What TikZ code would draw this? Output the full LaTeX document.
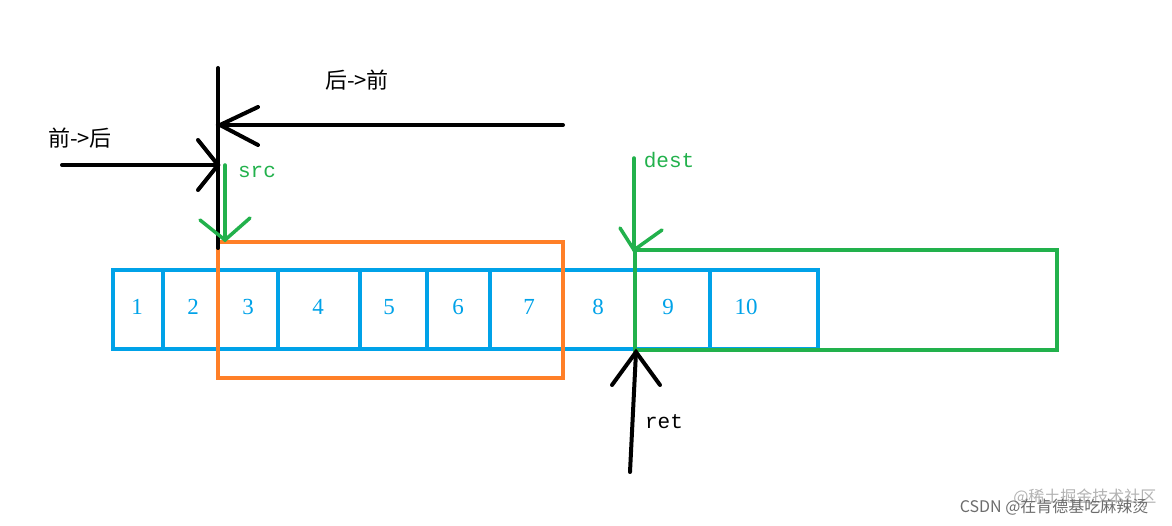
\documentclass[tikz,border=0pt]{standalone}
\usepackage{fontspec}
\setmainfont{Liberation Serif}
\setmonofont{Liberation Mono}
\newfontfamily\cjk{Noto Sans CJK SC}
\begin{document}
\begin{tikzpicture}[x=1pt,y=-1pt,
  bl/.style={draw=blu,line width=4pt},
  num/.style={text=blu,font=\fontsize{23}{24}\selectfont},
  lbl/.style={font=\ttfamily\fontsize{21}{22}\selectfont},
  blk/.style={line width=4pt,black,line cap=round},
  grn/.style={line width=3.5pt,gre,line cap=round}]
\definecolor{blu}{RGB}{0,162,232}
\definecolor{ora}{RGB}{255,127,39}
\definecolor{gre}{RGB}{34,177,76}
\useasboundingbox (0,0) rectangle (1172,526);
% array
\draw[bl] (113,270) rectangle (818,349);
\foreach \x in {163,218,278,360,427,490,563,710} \draw[bl] (\x,270) -- (\x,349);
\foreach \x/\n in {137/1,193/2,248/3,318/4,389/5,458/6,529/7,598/8,668/9,746/10}
  \node[num] (n\n) at (\x,307) {\n};
% orange and green boxes
\draw[ora,line width=4pt] (218,242) rectangle (563,378);
\draw[gre,line width=4pt] (635,250) rectangle (1057,350);
% black lines
\coordinate (vt) at (218,68); \coordinate (vb) at (218,248);
\draw[blk] (vt) -- (vb);
\coordinate (a1s) at (563,125); \coordinate (a1e) at (220,125);
\draw[blk] (a1s) -- (a1e);
\draw[blk] (258,107) -- (a1e) -- (258,145);
\coordinate (a2s) at (62,165); \coordinate (a2e) at (218,165);
\draw[blk] (a2s) -- (a2e);
\draw[blk] (198,140) -- (a2e) -- (198,190);
\node[font=\cjk\fontsize{22}{23}\selectfont] (t1) at (357,80) {后->前};
\node[font=\cjk\fontsize{22}{23}\selectfont] (t2) at (80,138) {前->后};
% src
\node[lbl,text=gre] (src) at (257,172) {src};
\coordinate (s1) at (225,165); \coordinate (s2) at (225,240);
\draw[grn] (s1) -- (s2);
\draw[grn] (200,220) -- (s2) -- (250,218);
% dest
\node[lbl,text=gre] (dest) at (669,160) {dest};
\coordinate (d1) at (634,158); \coordinate (d2) at (634,250);
\draw[grn] (d1) -- (d2);
\draw[grn] (620,228) -- (d2) -- (662,230);
% ret
\node[lbl] (ret) at (664,422) {ret};
\coordinate (r1) at (630,472); \coordinate (r2) at (636,352);
\draw[blk] (r1) -- (r2);
\draw[blk] (612,385) -- (r2) -- (660,385);
% watermark
\node[text=gray!60,font=\cjk\fontsize{16}{17}\selectfont,anchor=east] (wm2) at (1160,497) {@稀土掘金技术社区};
\node[text=gray!85!black,font=\cjk\fontsize{16}{17}\selectfont,anchor=east] (wm) at (1152,507) {CSDN @在肯德基吃麻辣烫};
\end{tikzpicture}
\end{document}
